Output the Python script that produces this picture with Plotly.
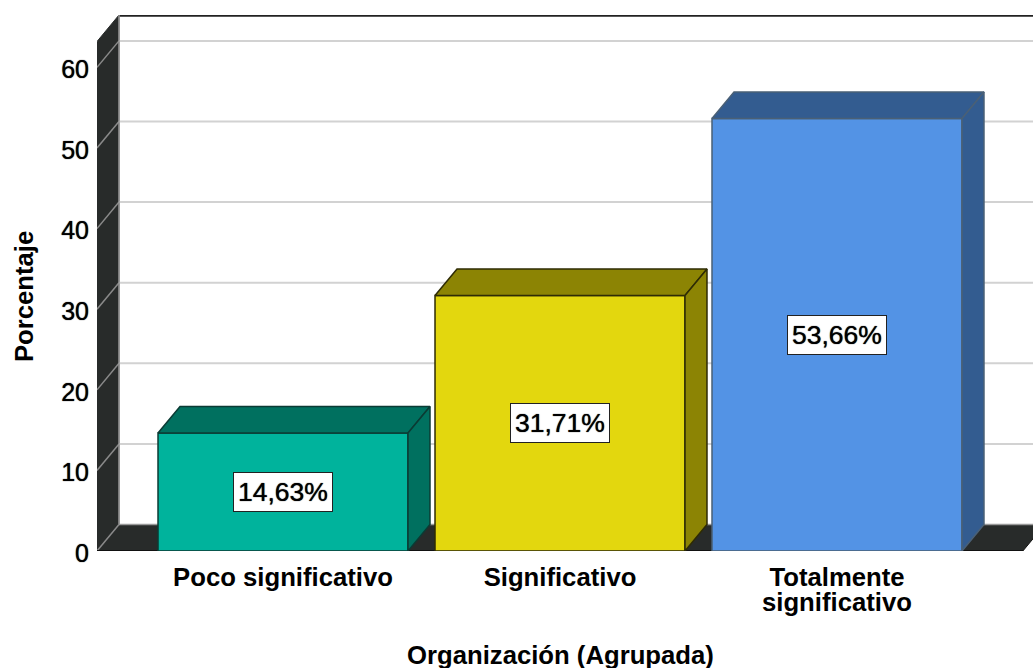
import plotly.graph_objects as go

categories = ["Poco significativo", "Significativo", "Totalmente"]
category_second_lines = ["", "", "significativo"]
percentages = [14.63, 31.71, 53.66]
value_labels = ["14,63%", "31,71%", "53,66%"]
y_ticks = [0, 10, 20, 30, 40, 50, 60]

front_colors = ["#00B39C", "#E3D70E", "#5393E5"]
side_colors = ["#00705F", "#8C8404", "#335C90"]
edge_colors = ["#0B3B34", "#2E2B05", "#4A6076"]

WALL = "#282B2A"
GRID = "#D2D2D2"
FONT = "Liberation Sans"

# scales of the picture, 277 px per category and 8.06 px per percent
X_MIN, X_MAX = -0.6715, 2.7076
Y_MAX = 66.5
FLOOR_RIGHT = 2.671
BAR_WIDTH = 0.9025
DX = 22 / 277
DY = 26.5 / 8.06

positions = list(range(len(categories)))


def poly(points):
    return "M " + " L ".join(f"{x} {y}" for x, y in points) + " Z"


shapes = []
# floor and left wall
shapes.append(dict(type="path", layer="below", fillcolor=WALL, line=dict(color="#111111", width=1),
                   path=poly([(X_MIN, 0), (X_MIN + DX, DY), (FLOOR_RIGHT + DX, DY), (FLOOR_RIGHT, 0)])))
shapes.append(dict(type="path", layer="below", fillcolor=WALL, line=dict(color=WALL, width=1),
                   path=poly([(X_MIN, 0), (X_MIN, Y_MAX - DY), (X_MIN + DX, Y_MAX), (X_MIN + DX, DY)])))

# gridlines run across the back wall and down the side wall
for t in y_ticks[1:]:
    shapes.append(dict(type="line", layer="below", x0=X_MIN + DX, x1=X_MAX, y0=t + DY, y1=t + DY,
                       line=dict(color=GRID, width=2)))
for t in y_ticks:
    shapes.append(dict(type="line", layer="below", x0=X_MIN, x1=X_MIN + DX, y0=t, y1=t + DY,
                       line=dict(color="#8A8A8A", width=1.5)))

# top and back edge of the wall
shapes.append(dict(type="line", layer="below", x0=X_MIN + DX, x1=X_MAX, y0=Y_MAX - 0.1, y1=Y_MAX - 0.1,
                   line=dict(color="#222222", width=2)))
shapes.append(dict(type="line", layer="below", x0=X_MIN + DX, x1=X_MIN + DX, y0=DY, y1=Y_MAX,
                   line=dict(color="#9A9A9A", width=1.5)))
shapes.append(dict(type="line", layer="below", x0=X_MIN + DX, x1=X_MAX, y0=DY, y1=DY,
                   line=dict(color="#9A9A9A", width=1.5)))
shapes.append(dict(type="line", layer="below", x0=X_MIN, x1=FLOOR_RIGHT, y0=0, y1=0,
                   line=dict(color="#111111", width=2)))

fig = go.Figure()

fig.add_trace(go.Bar(
    x=positions,
    y=percentages,
    width=BAR_WIDTH,
    marker=dict(color=front_colors, line=dict(color=edge_colors, width=1.5)),
    hoverinfo="skip",
))

# top and right faces of each bar
for pos, val, side, edge in zip(positions, percentages, side_colors, edge_colors):
    left = pos - BAR_WIDTH / 2
    right = pos + BAR_WIDTH / 2
    top_x = [left, left + DX, right + DX, right, left]
    top_y = [val, val + DY, val + DY, val, val]
    side_x = [right, right + DX, right + DX, right, right]
    side_y = [0, DY, val + DY, val, 0]
    for xs, ys in ((top_x, top_y), (side_x, side_y)):
        fig.add_trace(go.Scatter(
            x=xs, y=ys, mode="lines", fill="toself", fillcolor=side,
            line=dict(color=edge, width=1.5), hoverinfo="skip",
        ))

for pos, val, label in zip(positions, percentages, value_labels):
    fig.add_annotation(
        x=pos, y=val / 2, text=label, showarrow=False,
        font=dict(family=FONT, size=26.5, color="#000000", shadow="0 0 1px #000000"),
        bgcolor="#FFFFFF", bordercolor="#222222", borderwidth=1, borderpad=4,
    )

label_font = dict(family=FONT, size=25.7, weight=600, color="#000000")

# second line of the long category label, tighter than a <br> would give
for pos, line in zip(positions, category_second_lines):
    if line:
        fig.add_annotation(x=pos, y=0, yref="y", yshift=-51, text=line, showarrow=False, font=label_font)

# axis titles, they do not sit at the middle of the plot area
fig.add_annotation(x=1, y=0, yref="y", yshift=-104, text="Organización (Agrupada)", showarrow=False, font=label_font)
fig.add_annotation(x=0, xref="paper", xanchor="center", xshift=-73, y=31.5, text="Porcentaje", textangle=-90,
                   showarrow=False, font=label_font)

fig.update_layout(
    width=1033,
    height=668,
    showlegend=False,
    paper_bgcolor="#FFFFFF",
    plot_bgcolor="#FFFFFF",
    margin=dict(l=97, r=0, t=15, b=117),
    font=dict(family=FONT, color="#000000"),
    shapes=shapes,
    xaxis=dict(
        range=[X_MIN, X_MAX],
        tickmode="array",
        tickvals=positions,
        ticktext=categories,
        tickfont=label_font,
        ticks="outside",
        ticklen=3,
        tickcolor="rgba(0,0,0,0)",
        showgrid=False,
        zeroline=False,
    ),
    yaxis=dict(
        range=[0, Y_MAX],
        tickmode="array",
        tickvals=y_ticks,
        ticktext=[str(t) for t in y_ticks],
        tickfont=dict(family=FONT, size=25, color="#000000", shadow="0 0 1px #000000"),
        ticks="outside",
        ticklen=2,
        ticklabelshift=2,
        tickcolor="rgba(0,0,0,0)",
        showgrid=False,
        zeroline=False,
    ),
)

# the page body has a default 8 px margin that would push the figure off
fig.write_html("out.html", config={"displayModeBar": False}, post_script="document.body.style.margin = '0';")
